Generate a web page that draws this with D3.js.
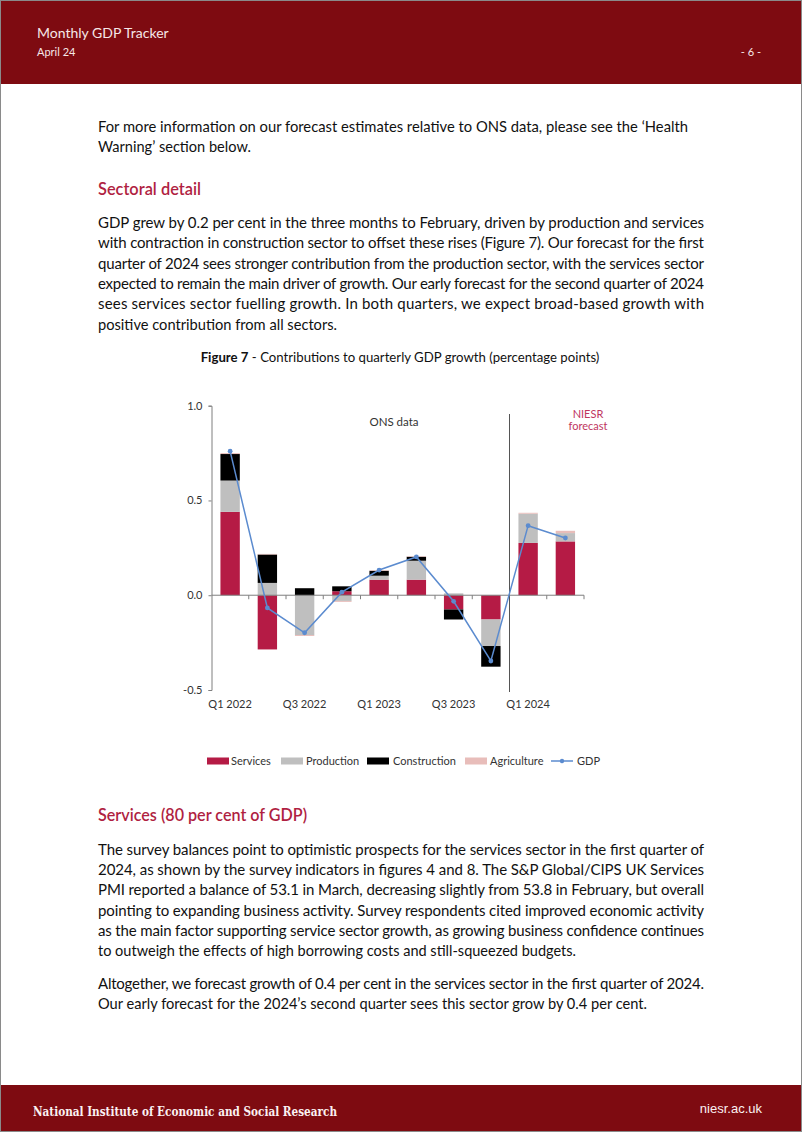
<!DOCTYPE html>
<html>
<head>
<meta charset="utf-8">
<script src="https://cdn.jsdelivr.net/npm/d3@7"></script>
<style>
html,body{margin:0;padding:0;background:#fff;}
svg{display:block;}
</style>
</head>
<body>
<div id="page"></div>
<script>
// ---------- Data ----------
const categories = ["Q1 2022","Q2 2022","Q3 2022","Q4 2022","Q1 2023","Q2 2023","Q3 2023","Q4 2023","Q1 2024","Q2 2024"];
const tickLabels = ["Q1 2022","Q3 2022","Q1 2023","Q3 2023","Q1 2024"];
const yTicks = [-0.5, 0.0, 0.5, 1.0];
const services     = [0.44, -0.286, 0.0, 0.021, 0.082, 0.082, -0.075, -0.128, 0.276, 0.284];
const production   = [0.165, 0.065, -0.21, -0.030, 0.021, 0.100, 0.010, -0.140, 0.154, 0.044];
const construction = [0.140, 0.150, 0.037, 0.026, 0.026, 0.021, -0.053, -0.109, 0.0, 0.0];
const agriculture  = [0.005, 0.003, -0.005, -0.005, 0.003, 0.003, 0.0, 0.0, 0.005, 0.012];
const gdp          = [0.76, -0.067, -0.198, 0.016, 0.133, 0.202, -0.032, -0.347, 0.367, 0.302];
const seriesNames = ["Services","Production","Construction","Agriculture"];
const forecastStart = "Q1 2024";

// ---------- Page text ---------- [text, justified, fitted width]
const para1 = [
  ["For more information on our forecast estimates relative to ONS data, please see the \u2018Health", false, 590],
  ["Warning\u2019 section below.", false, 153]
];
const para2 = [
  ["GDP grew by 0.2 per cent in the three months to February, driven by production and services", true],
  ["with contraction in construction sector to offset these rises (Figure 7). Our forecast for the first", true],
  ["quarter of 2024 sees stronger contribution from the production sector, with the services sector", true],
  ["expected to remain the main driver of growth. Our early forecast for the second quarter of 2024", true],
  ["sees services sector fuelling growth. In both quarters, we expect broad-based growth with", true],
  ["positive contribution from all sectors.", false, 239]
];
const para3 = [
  ["The survey balances point to optimistic prospects for the services sector in the first quarter of", true],
  ["2024, as shown by the survey indicators in figures 4 and 8. The S&P Global/CIPS UK Services", true],
  ["PMI reported a balance of 53.1 in March, decreasing slightly from 53.8 in February, but overall", true],
  ["pointing to expanding business activity. Survey respondents cited improved economic activity", true],
  ["as the main factor supporting service sector growth, as growing business confidence continues", true],
  ["to outweigh the effects of high borrowing costs and still-squeezed budgets.", false, 478]
];
const para4 = [
  ["Altogether, we forecast growth of 0.4 per cent in the services sector in the first quarter of 2024.", true],
  ["Our early forecast for the 2024\u2019s second quarter sees this sector grow by 0.4 per cent.", false, 549]
];

const W = 802, H = 1132;
const RED = "#7E0B11";
const CRIMSON = "#B01F42";
const FONT = "Lato, 'Open Sans', sans-serif";

const svg = d3.select("#page").append("svg").attr("width", W).attr("height", H);

// page background + frame
svg.append("rect").attr("x",0.5).attr("y",0.5).attr("width",W-1).attr("height",H-1)
  .attr("fill","#fff").attr("stroke","#8a8a8a").attr("stroke-width",1);

// header
svg.append("rect").attr("x",1).attr("y",1).attr("width",W-2).attr("height",83).attr("fill",RED);
svg.append("text").attr("x",37).attr("y",38).attr("font-family",FONT).attr("font-size",14)
  .attr("fill","#f6e7e7").text("Monthly GDP Tracker");
svg.append("text").attr("x",37).attr("y",56).attr("font-family",FONT).attr("font-size",11)
  .attr("fill","#f6e7e7").text("April 24");
svg.append("text").attr("x",761).attr("y",56).attr("text-anchor","end").attr("font-family",FONT).attr("font-size",11)
  .attr("fill","#f6e7e7").text("- 6 -");

// footer
svg.append("rect").attr("x",1).attr("y",1085).attr("width",W-2).attr("height",46).attr("fill",RED);
svg.append("text").attr("x",33).attr("y",1116).attr("font-family","'DejaVu Serif', serif").attr("font-size",13.5)
  .attr("font-weight",600).attr("fill","#fbf1f1").attr("textLength",304).attr("lengthAdjust","spacingAndGlyphs")
  .text("National Institute of Economic and Social Research");
svg.append("text").attr("x",762).attr("y",1113).attr("text-anchor","end").attr("font-family","'Liberation Sans', Arial, sans-serif").attr("font-size",13)
  .attr("fill","#fbf1f1").text("niesr.ac.uk");

// paragraphs
const LEFT = 98, RIGHT = 704;
function paragraph(lines, y0, lh){
  lines.forEach((l,i)=>{
    const t = svg.append("text").attr("x",LEFT).attr("y",y0+i*lh)
      .attr("font-family",FONT).attr("font-size",15).attr("fill","#111")
      .attr("xml:space","preserve").text(l[0]);
    if (l[1]) t.attr("textLength",RIGHT-LEFT).attr("lengthAdjust","spacing");
    else if (l[2]) t.attr("textLength",l[2]).attr("lengthAdjust","spacingAndGlyphs");
  });
}
paragraph(para1, 132, 20.3);
svg.append("text").attr("x",LEFT).attr("y",195).attr("font-family",FONT).attr("font-size",17)
  .attr("font-weight",600).attr("fill",CRIMSON).attr("textLength",103).attr("lengthAdjust","spacingAndGlyphs").text("Sectoral detail");
paragraph(para2, 228, 20.3);
svg.append("text").attr("x",LEFT).attr("y",821).attr("font-family",FONT).attr("font-size",17)
  .attr("font-weight",600).attr("fill",CRIMSON).attr("textLength",209).attr("lengthAdjust","spacingAndGlyphs").text("Services (80 per cent of GDP)");
paragraph(para3, 855, 20.2);
paragraph(para4, 989, 20.3);

// caption
const cap = svg.append("text").attr("x",400).attr("y",362).attr("text-anchor","middle")
  .attr("font-family",FONT).attr("font-size",13.2).attr("fill","#111");
cap.append("tspan").attr("font-weight",700).text("Figure 7");
cap.append("tspan").text(" - Contributions to quarterly GDP growth (percentage points)");

// ---------- Chart ----------
const colors = {Services:"#B51B45", Production:"#BFBFBF", Construction:"#000000", Agriculture:"#E8BDBA"};
const GDPCOL = "#5B8BCF";
const x = d3.scaleBand().domain(categories).range([211.5, 584]).paddingInner(0.48).paddingOuter(0.24);
const y = d3.scaleLinear().domain([-0.5, 1.0]).range([690, 405.7]);

const table = categories.map((c,i)=>({cat:c, Services:services[i], Production:production[i], Construction:construction[i], Agriculture:agriculture[i]}));
const stack = d3.stack().keys(seriesNames).offset(d3.stackOffsetDiverging)(table);

const g = svg.append("g");
stack.forEach(s=>{
  g.append("g").attr("fill",colors[s.key]).selectAll("rect").data(s).join("rect")
    .attr("x",d=>x(d.data.cat)).attr("width",x.bandwidth())
    .attr("y",d=>y(Math.max(d[0],d[1]))).attr("height",d=>Math.abs(y(d[0])-y(d[1])));
});

// y axis
const fmt = d3.format(".1f");
const yAxis = d3.axisLeft(y).tickValues(yTicks).tickFormat(d=>fmt(d).replace("\u2212","-")).tickSize(3).tickPadding(6);
const ya = svg.append("g").attr("transform","translate(211.5,0)").call(yAxis);
ya.select(".domain").attr("stroke","#7f7f7f");
ya.selectAll(".tick line").attr("stroke","#7f7f7f");
ya.selectAll("text").attr("font-family",FONT).attr("font-size",11).attr("fill","#333");

// x axis at zero
const step = x.step();
const xa = svg.append("g").attr("transform",`translate(0,${y(0)})`);
xa.append("line").attr("x1",211.5).attr("x2",584).attr("stroke","#7f7f7f");
xa.selectAll("line.t").data(categories).join("line").attr("class","t")
  .attr("x1",d=>x(d)-x.paddingOuter()*step+step).attr("x2",d=>x(d)-x.paddingOuter()*step+step)
  .attr("y1",0).attr("y2",4).attr("stroke","#7f7f7f");
svg.append("g").selectAll("text").data(tickLabels).join("text")
  .attr("x",d=>x(d)+x.bandwidth()/2).attr("y",708).attr("text-anchor","middle")
  .attr("font-family",FONT).attr("font-size",11).attr("fill","#333").text(d=>d);

// forecast divider
const divX = x(forecastStart) - x.paddingInner()*step/2;
svg.append("line").attr("x1",divX).attr("x2",divX).attr("y1",414).attr("y2",692)
  .attr("stroke","#555").attr("stroke-width",1);
svg.append("text").attr("x",394).attr("y",426).attr("text-anchor","middle")
  .attr("font-family",FONT).attr("font-size",11.5).attr("fill","#333").text("ONS data");
svg.append("text").attr("x",588).attr("y",418).attr("text-anchor","middle")
  .attr("font-family",FONT).attr("font-size",11).attr("fill","#C0365F").text("NIESR");
svg.append("text").attr("x",588).attr("y",430).attr("text-anchor","middle")
  .attr("font-family",FONT).attr("font-size",11).attr("fill","#C0365F").text("forecast");

// GDP line
const line = d3.line().x((d,i)=>x(categories[i])+x.bandwidth()/2).y(d=>y(d));
svg.append("path").datum(gdp).attr("d",line).attr("fill","none").attr("stroke",GDPCOL).attr("stroke-width",1.5);
svg.append("g").selectAll("circle").data(gdp).join("circle")
  .attr("cx",(d,i)=>x(categories[i])+x.bandwidth()/2).attr("cy",d=>y(d)).attr("r",2.4).attr("fill",GDPCOL);

// legend
const legendItems = [
  {name:"Services", sx:207, tx:231},
  {name:"Production", sx:281, tx:306},
  {name:"Construction", sx:367, tx:393},
  {name:"Agriculture", sx:465, tx:490},
  {name:"GDP", sx:551, tx:577}
];
const lg = svg.append("g");
legendItems.forEach(it=>{
  if (it.name === "GDP"){
    lg.append("line").attr("x1",it.sx).attr("x2",it.sx+22).attr("y1",761).attr("y2",761).attr("stroke",GDPCOL).attr("stroke-width",1.5);
    lg.append("circle").attr("cx",it.sx+11).attr("cy",761).attr("r",2.2).attr("fill",GDPCOL);
  } else {
    lg.append("rect").attr("x",it.sx).attr("y",757.5).attr("width",22).attr("height",7).attr("fill",colors[it.name]);
  }
  lg.append("text").attr("x",it.tx).attr("y",765).attr("font-family",FONT).attr("font-size",11)
    .attr("fill","#333").text(it.name);
});
</script>
</body>
</html>
